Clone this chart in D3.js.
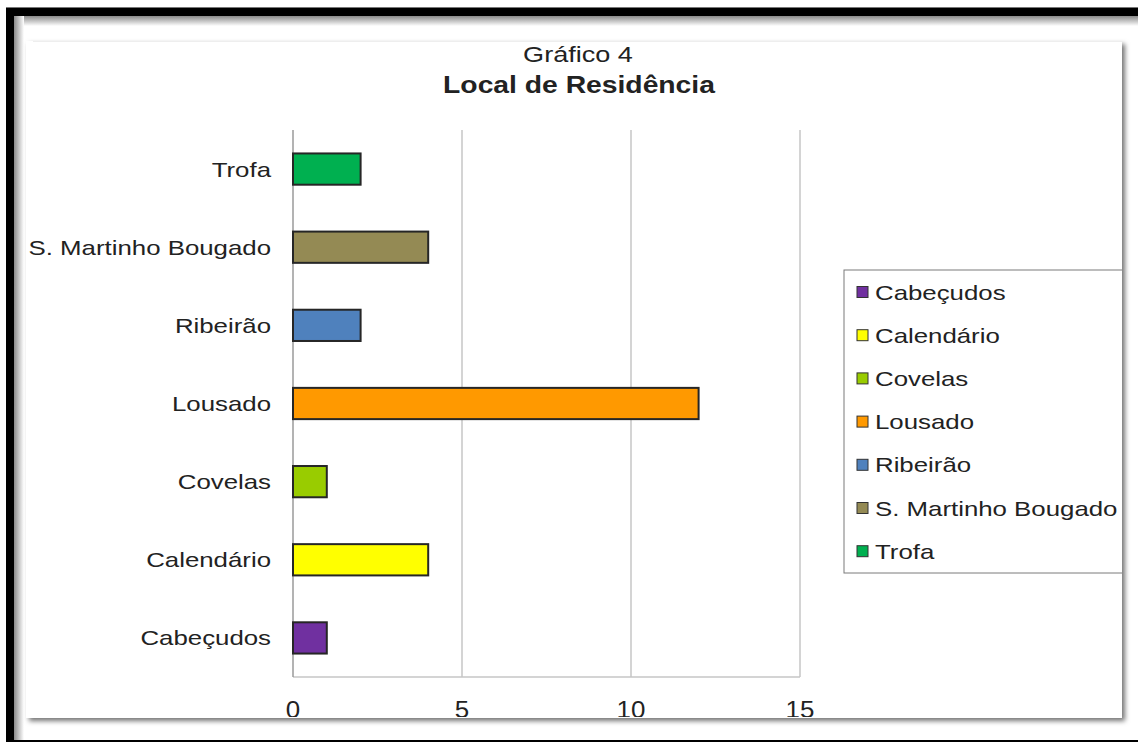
<!DOCTYPE html>
<html>
<head>
<meta charset="utf-8">
<script src="https://cdn.jsdelivr.net/npm/d3@7"></script>
<style>
  html, body { margin: 0; padding: 0; background: #fff; }
  svg { display: block; }
  text { font-family: "Liberation Sans", Arial, sans-serif; fill: #222; }
</style>
</head>
<body>
<svg id="chart" width="1138" height="742"></svg>
<script>
// Local de Residência — number of respondents per place of residence
const categories = ["Cabeçudos", "Calendário", "Covelas", "Lousado", "Ribeirão", "S. Martinho Bougado", "Trofa"];
const values = [1, 4, 1, 12, 2, 4, 2];
const colors = ["#7030A0", "#FFFF00", "#99CC00", "#FF9900", "#4F81BD", "#948A54", "#00B050"];
const xTicks = [0, 5, 10, 15];
const titleLine1 = "Gráfico 4";
const titleLine2 = "Local de Residência";

const W = 1138, H = 742;
const svg = d3.select("#chart");
const defs = svg.append("defs");

// horizontal stretch of the lettering
const SX = 1.23;

// frame shading gradients
const gTop = defs.append("linearGradient").attr("id", "gTop").attr("x1", 0).attr("y1", 0).attr("x2", 0).attr("y2", 1);
gTop.append("stop").attr("offset", 0).attr("stop-color", "#8a8a8a");
gTop.append("stop").attr("offset", 1).attr("stop-color", "#ffffff");
const gLeft = defs.append("linearGradient").attr("id", "gLeft").attr("x1", 0).attr("y1", 0).attr("x2", 1).attr("y2", 0);
gLeft.append("stop").attr("offset", 0).attr("stop-color", "#8a8a8a");
gLeft.append("stop").attr("offset", 1).attr("stop-color", "#ffffff");

const shadow = defs.append("filter").attr("id", "shadow")
  .attr("x", "-5%").attr("y", "-5%").attr("width", "110%").attr("height", "110%");
shadow.append("feDropShadow").attr("dx", 3).attr("dy", 3).attr("stdDeviation", 2.5)
  .attr("flood-color", "#000").attr("flood-opacity", 0.55);

// outer frame
svg.append("rect").attr("x", 0).attr("y", 0).attr("width", W).attr("height", H).attr("fill", "#fff");
svg.append("rect").attr("x", 6).attr("y", 16).attr("width", W - 6).attr("height", 10).attr("fill", "url(#gTop)");
svg.append("rect").attr("x", 14).attr("y", 16).attr("width", 10).attr("height", H - 16).attr("fill", "url(#gLeft)");
svg.append("rect").attr("x", 6).attr("y", 7).attr("width", W - 6).attr("height", 1).attr("fill", "#777");
svg.append("rect").attr("x", 6).attr("y", 8).attr("width", W - 6).attr("height", 8).attr("fill", "#000");
svg.append("rect").attr("x", 6).attr("y", 8).attr("width", 8).attr("height", H - 8).attr("fill", "#000");
svg.append("rect").attr("x", 6).attr("y", 740).attr("width", W - 6).attr("height", 2).attr("fill", "#000");

// chart panel
const panel = { x: 26, y: 41, w: 1096, h: 677 };
svg.append("rect").attr("x", panel.x).attr("y", panel.y).attr("width", panel.w).attr("height", panel.h)
  .attr("fill", "#fff").attr("filter", "url(#shadow)");
svg.append("line").attr("x1", 33).attr("x2", panel.x + panel.w).attr("y1", panel.y + 0.5).attr("y2", panel.y + 0.5)
  .attr("stroke", "#eeeeee").attr("stroke-width", 1);
defs.append("clipPath").attr("id", "panelClip").append("rect")
  .attr("x", panel.x).attr("y", panel.y).attr("width", panel.w).attr("height", panel.h - 1);
const g = svg.append("g").attr("clip-path", "url(#panelClip)");

// scales
const plot = { left: 293, right: 800, top: 130, bottom: 677 };
const x = d3.scaleLinear().domain([0, 15]).range([plot.left, plot.right]);
const y = d3.scaleBand().domain(categories.slice().reverse())
  .range([plot.top, plot.bottom]).paddingInner(0.6).paddingOuter(0.3);

// title
g.append("text").attr("text-anchor", "middle").attr("font-size", 22)
  .attr("transform", `translate(578,62) scale(${SX},1)`).text(titleLine1);
g.append("text").attr("text-anchor", "middle").attr("font-size", 23).attr("font-weight", "bold")
  .attr("transform", `translate(579,93) scale(${SX},1)`).text(titleLine2);

// gridlines
g.append("g").selectAll("line").data(xTicks.filter(d => d > 0)).join("line")
  .attr("x1", d => x(d)).attr("x2", d => x(d))
  .attr("y1", plot.top).attr("y2", plot.bottom)
  .attr("stroke", "#c6c6c6").attr("stroke-width", 1.5);
g.append("line").attr("x1", x(0)).attr("x2", x(15)).attr("y1", plot.bottom).attr("y2", plot.bottom)
  .attr("stroke", "#c6c6c6").attr("stroke-width", 1.5);
g.append("line").attr("x1", x(0)).attr("x2", x(0)).attr("y1", plot.top).attr("y2", plot.bottom)
  .attr("stroke", "#9a9a9a").attr("stroke-width", 1.5);

// bars
g.append("g").selectAll("rect").data(categories).join("rect")
  .attr("x", x(0))
  .attr("y", d => y(d))
  .attr("width", (d, i) => x(values[i]) - x(0))
  .attr("height", y.bandwidth())
  .attr("fill", (d, i) => colors[i])
  .attr("stroke", "#262626").attr("stroke-width", 2);

// category labels
g.append("g").selectAll("text").data(categories).join("text")
  .attr("text-anchor", "end").attr("font-size", 21)
  .attr("transform", d => `translate(271,${y(d) + y.bandwidth() / 2 + 7.5}) scale(${SX},1)`)
  .text(d => d);

// x tick labels (cut by the panel's lower edge)
g.append("g").selectAll("text").data(xTicks).join("text")
  .attr("text-anchor", "middle").attr("font-size", 24)
  .attr("transform", d => `translate(${x(d)},718) scale(1.08,1)`)
  .text(d => d);

// legend
const legend = g.append("g");
legend.append("rect").attr("x", 844).attr("y", 270).attr("width", 300).attr("height", 303)
  .attr("fill", "#fff").attr("stroke", "#7a7a7a").attr("stroke-width", 1);
const rows = legend.selectAll("g.item").data(categories).join("g").attr("class", "item")
  .attr("transform", (d, i) => `translate(0,${292 + i * 43.2})`);
rows.append("rect").attr("x", 857).attr("y", -5.5).attr("width", 11).attr("height", 11)
  .attr("fill", (d, i) => colors[i]).attr("stroke", "#333").attr("stroke-width", 1);
rows.append("text").attr("font-size", 21)
  .attr("transform", `translate(875,7.5) scale(${SX},1)`).text(d => d);
</script>
</body>
</html>
